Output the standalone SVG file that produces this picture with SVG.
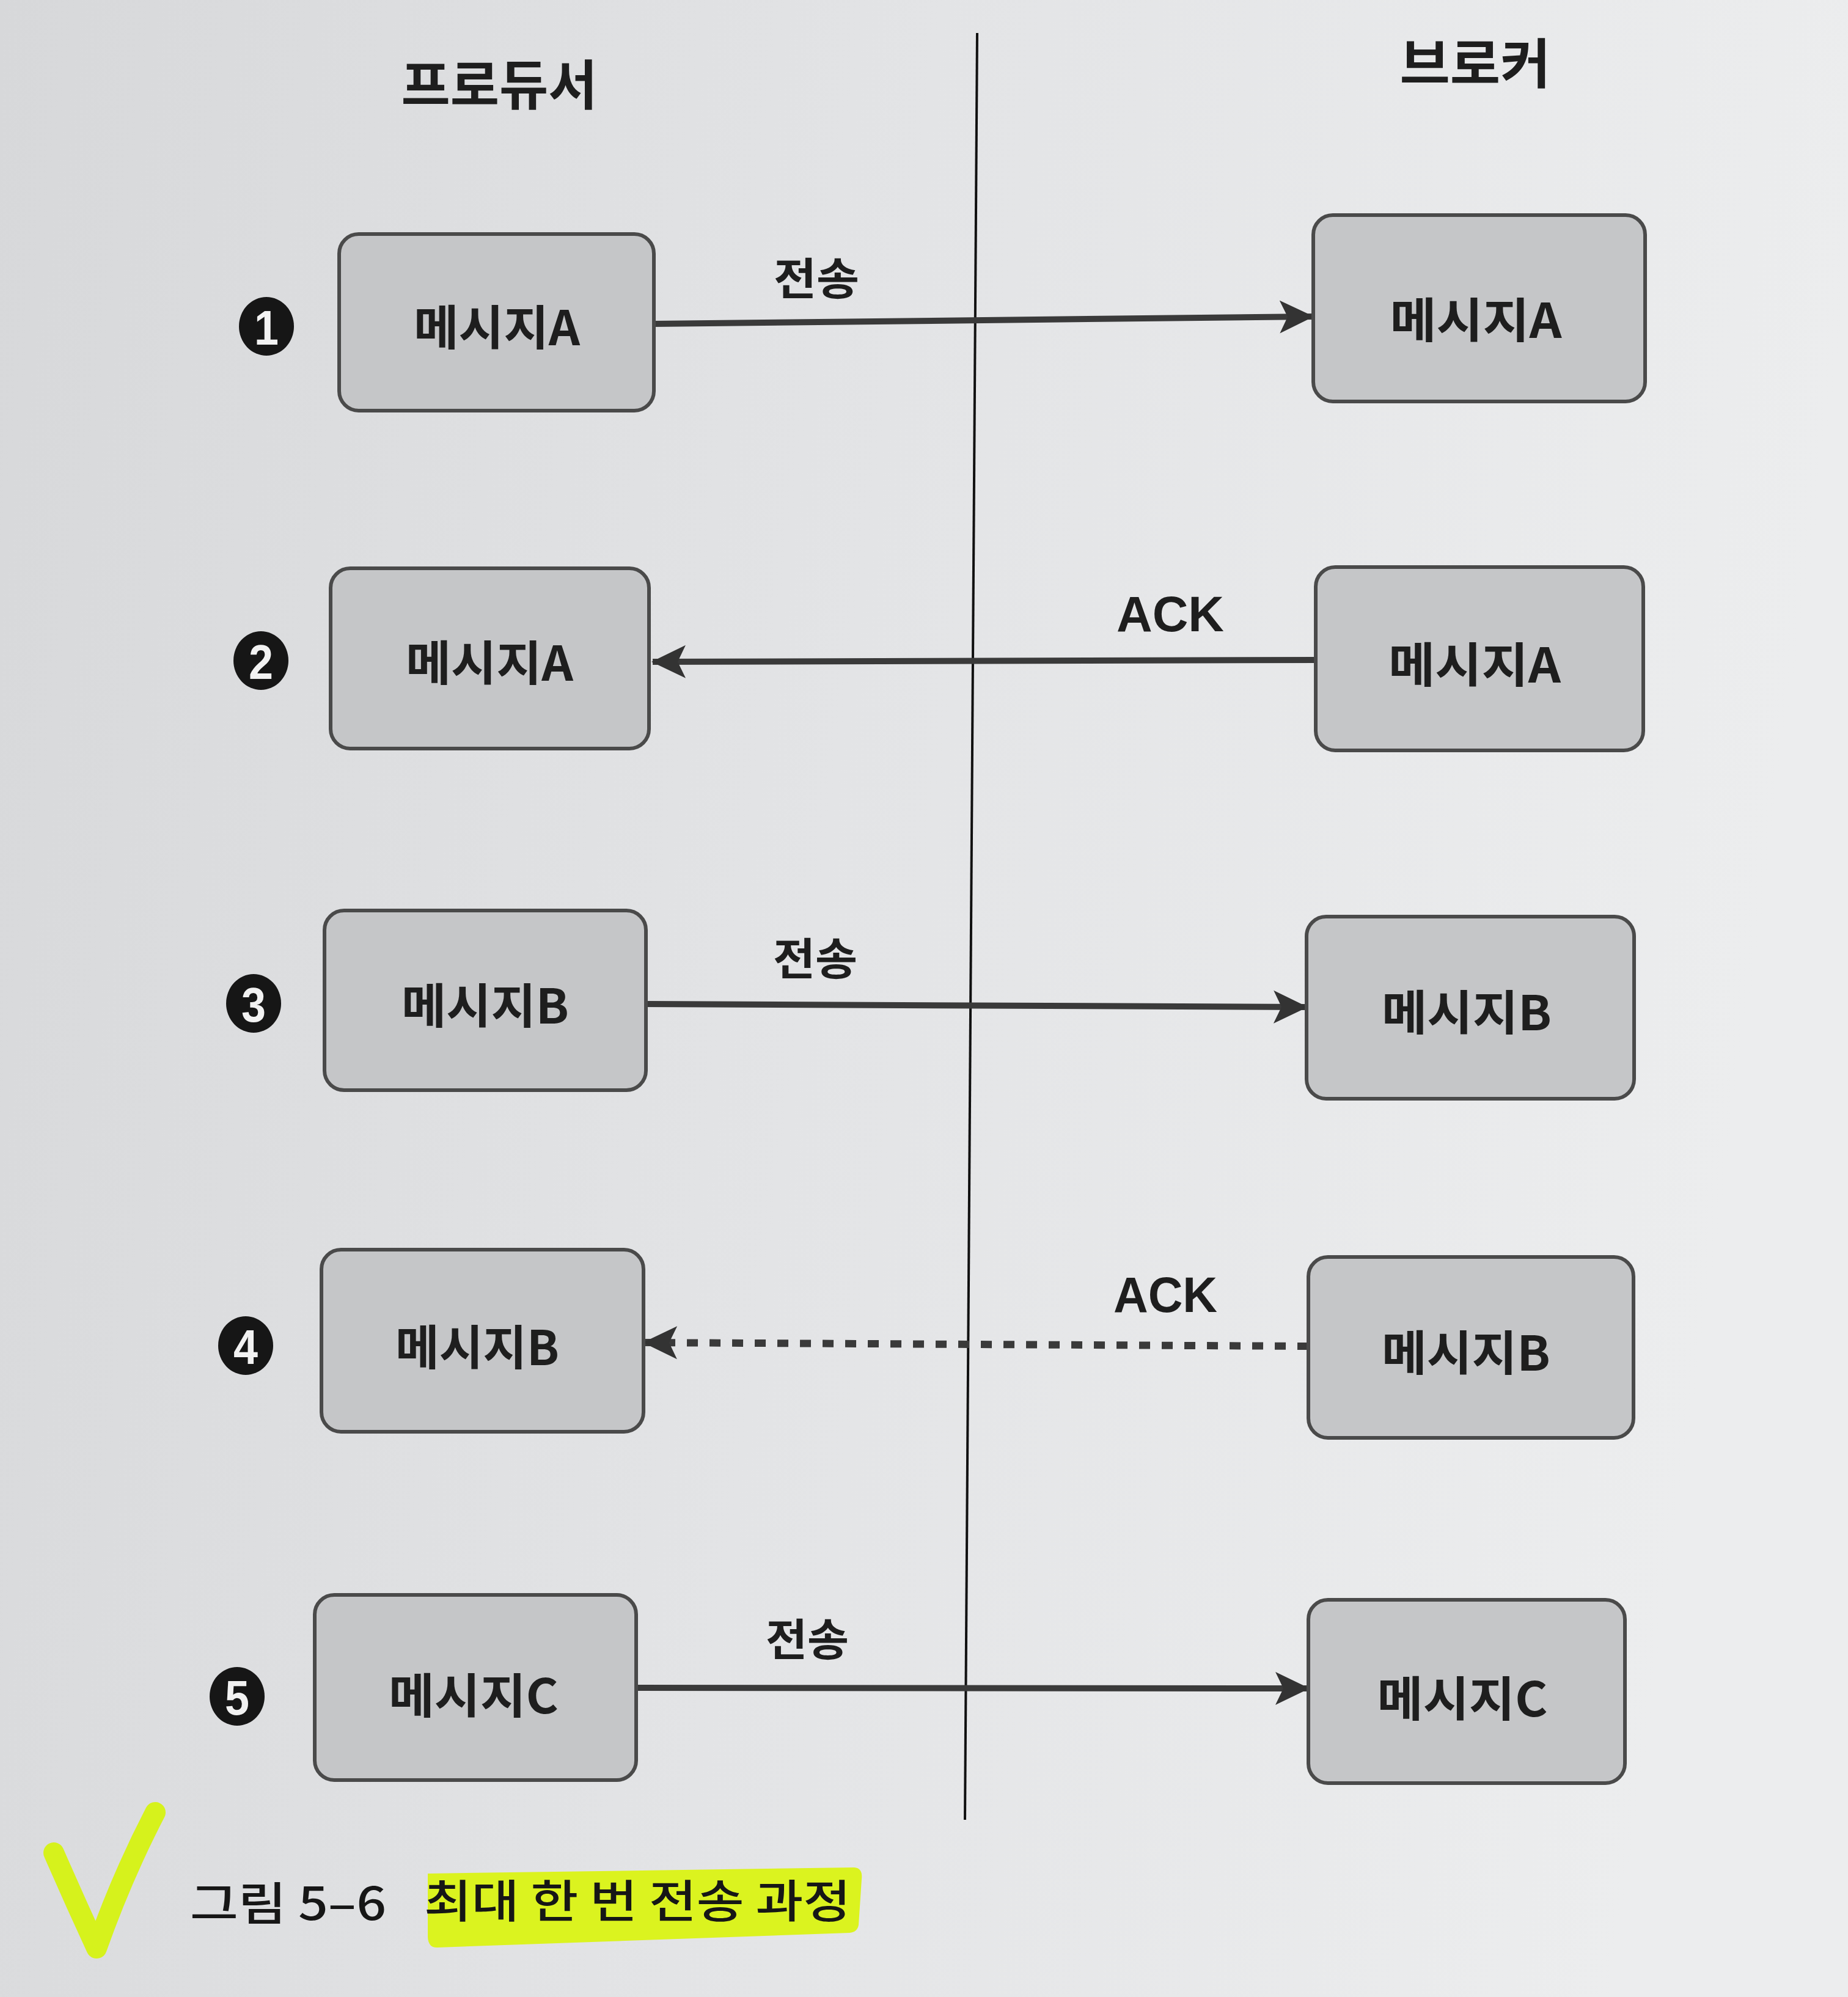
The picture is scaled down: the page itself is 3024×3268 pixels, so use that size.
<svg xmlns="http://www.w3.org/2000/svg" width="3024" height="3268" viewBox="0 0 3024 3268">
  <defs>
    <linearGradient id="paper" x1="0" y1="0" x2="1" y2="0.15">
      <stop offset="0" stop-color="#d7d8da"/>
      <stop offset="0.5" stop-color="#e3e4e6"/>
      <stop offset="1" stop-color="#ecedee"/>
    </linearGradient>
    <marker id="arrow" markerUnits="userSpaceOnUse" markerWidth="56" markerHeight="56" viewBox="0 0 56 56" refX="54" refY="28" orient="auto">
      <path d="M0,1 L56,28 L0,55 L13,28 Z" fill="#333"/>
    </marker>
  </defs>
  <style>
    .box { fill: #c5c6c8; stroke: #4a4a4a; stroke-width: 6; }
    .lbl { font-family: "Noto Sans CJK KR", "Noto Sans", sans-serif; font-weight: 700; font-size: 78px; fill: #1e1e1e; text-anchor: middle; dominant-baseline: central; }
    .title { font-family: "Noto Sans CJK KR", "Noto Sans", sans-serif; font-weight: 700; font-size: 88px; fill: #1e1e1e; text-anchor: middle; dominant-baseline: central; }
    .edge { font-family: "Noto Sans CJK KR", "Noto Sans", sans-serif; font-weight: 700; font-size: 72px; fill: #1e1e1e; text-anchor: middle; dominant-baseline: central; }
    .ack { font-family: "Liberation Sans", Arial, sans-serif; font-weight: 700; font-size: 82px; fill: #1e1e1e; text-anchor: middle; dominant-baseline: central; }
    .num { fill: #161616; }
    .numtxt { font-family: "Liberation Sans", Arial, sans-serif; font-weight: 700; font-size: 80px; fill: #f2f2f2; text-anchor: middle; dominant-baseline: central; }
    .conn { stroke: #3a3a3a; stroke-width: 10; fill: none; }
    .dash { stroke-dasharray: 18 19; stroke-width: 12; }
    .cap { font-family: "Noto Sans CJK KR", "Noto Sans", sans-serif; font-weight: 500; font-size: 74px; fill: #161616; dominant-baseline: central; }
  </style>

  <rect x="0" y="0" width="3024" height="3268" fill="url(#paper)"/>

  <!-- lane titles and divider -->
  <g id="lanes">
    <text class="title" x="817" y="132" textLength="321" lengthAdjust="spacingAndGlyphs">프로듀서</text>
    <text class="title" x="2414" y="97" textLength="247" lengthAdjust="spacingAndGlyphs">브로커</text>
    <line x1="1599" y1="54" x2="1579" y2="2978" stroke="#111" stroke-width="4"/>
  </g>

  <!-- connectors -->
  <g id="connectors">
    <line class="conn" x1="1070" y1="530" x2="2148" y2="518" marker-end="url(#arrow)"/>
    <text class="edge" x="1336" y="450" textLength="140" lengthAdjust="spacingAndGlyphs">전송</text>

    <line class="conn" x1="2152" y1="1080" x2="1068" y2="1083" marker-end="url(#arrow)"/>
    <text class="ack" x="1915" y="1004" textLength="176" lengthAdjust="spacingAndGlyphs">ACK</text>

    <line class="conn" x1="1057" y1="1643" x2="2138" y2="1648" marker-end="url(#arrow)"/>
    <text class="edge" x="1334" y="1563" textLength="138" lengthAdjust="spacingAndGlyphs">전송</text>

    <line class="conn dash" x1="2141" y1="2203" x2="1054" y2="2197" marker-end="url(#arrow)"/>
    <text class="ack" x="1907" y="2118" textLength="170" lengthAdjust="spacingAndGlyphs">ACK</text>

    <line class="conn" x1="1041" y1="2762" x2="2141" y2="2763" marker-end="url(#arrow)"/>
    <text class="edge" x="1321" y="2677" textLength="136" lengthAdjust="spacingAndGlyphs">전송</text>
  </g>

  <!-- step markers -->
  <g id="step1"><ellipse class="num" cx="436" cy="534" rx="45" ry="48"/><text class="numtxt" x="436" y="536" textLength="40" lengthAdjust="spacingAndGlyphs">1</text></g>
  <g id="step2"><ellipse class="num" cx="427" cy="1081" rx="45" ry="48"/><text class="numtxt" x="427" y="1083" textLength="40" lengthAdjust="spacingAndGlyphs">2</text></g>
  <g id="step3"><ellipse class="num" cx="415" cy="1642" rx="45" ry="48"/><text class="numtxt" x="415" y="1644" textLength="40" lengthAdjust="spacingAndGlyphs">3</text></g>
  <g id="step4"><ellipse class="num" cx="402" cy="2202" rx="45" ry="48"/><text class="numtxt" x="402" y="2204" textLength="40" lengthAdjust="spacingAndGlyphs">4</text></g>
  <g id="step5"><ellipse class="num" cx="388" cy="2776" rx="45" ry="48"/><text class="numtxt" x="388" y="2778" textLength="40" lengthAdjust="spacingAndGlyphs">5</text></g>

  <!-- producer nodes -->
  <g id="producer-A1"><rect class="box" x="555" y="383" width="515" height="289" rx="32"/><text class="lbl" x="813" y="531" textLength="272" lengthAdjust="spacingAndGlyphs">메시지A</text></g>
  <g id="producer-A2"><rect class="box" x="541" y="930" width="521" height="295" rx="32"/><text class="lbl" x="801" y="1080" textLength="274" lengthAdjust="spacingAndGlyphs">메시지A</text></g>
  <g id="producer-B3"><rect class="box" x="531" y="1490" width="526" height="294" rx="32"/><text class="lbl" x="794" y="1641" textLength="274" lengthAdjust="spacingAndGlyphs">메시지B</text></g>
  <g id="producer-B4"><rect class="box" x="526" y="2045" width="527" height="298" rx="32"/><text class="lbl" x="781" y="2200" textLength="268" lengthAdjust="spacingAndGlyphs">메시지B</text></g>
  <g id="producer-C5"><rect class="box" x="515" y="2610" width="526" height="303" rx="32"/><text class="lbl" x="775" y="2770" textLength="278" lengthAdjust="spacingAndGlyphs">메시지C</text></g>

  <!-- broker nodes -->
  <g id="broker-A1"><rect class="box" x="2149" y="352" width="543" height="305" rx="32"/><text class="lbl" x="2415" y="519" textLength="281" lengthAdjust="spacingAndGlyphs">메시지A</text></g>
  <g id="broker-A2"><rect class="box" x="2153" y="928" width="536" height="300" rx="32"/><text class="lbl" x="2413" y="1083" textLength="282" lengthAdjust="spacingAndGlyphs">메시지A</text></g>
  <g id="broker-B3"><rect class="box" x="2138" y="1500" width="536" height="298" rx="32"/><text class="lbl" x="2400" y="1652" textLength="278" lengthAdjust="spacingAndGlyphs">메시지B</text></g>
  <g id="broker-B4"><rect class="box" x="2141" y="2057" width="532" height="296" rx="32"/><text class="lbl" x="2399" y="2209" textLength="276" lengthAdjust="spacingAndGlyphs">메시지B</text></g>
  <g id="broker-C5"><rect class="box" x="2141" y="2618" width="518" height="300" rx="32"/><text class="lbl" x="2393" y="2775" textLength="279" lengthAdjust="spacingAndGlyphs">메시지C</text></g>

  <!-- caption -->
  <g id="caption">
    <path d="M88,3032 Q122,3110 158,3188 Q200,3070 254,2966" fill="none" stroke="#d6f21c" stroke-width="34" stroke-linecap="round" stroke-linejoin="round"/>
    <path d="M700,3066 L1398,3056 Q1412,3057 1410,3075 L1405,3150 Q1403,3162 1390,3163 L716,3187 Q701,3188 700,3170 Z" fill="#dbf31f"/>
    <text class="cap" x="311" y="3109" textLength="321" lengthAdjust="spacingAndGlyphs">그림 5–6</text>
    <text class="cap" x="694" y="3105" textLength="698" lengthAdjust="spacingAndGlyphs">최대 한 번 전송 과정</text>
  </g>
</svg>
